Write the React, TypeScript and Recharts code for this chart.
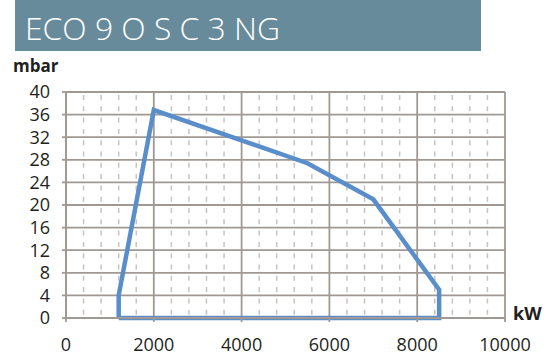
import React from 'react';
import { LineChart, Line, XAxis, YAxis, CartesianGrid } from 'recharts';

// operating field outline (kW, mbar), closed polygon
const powerKw = [1200, 1200, 2000, 5500, 7000, 8500, 8500, 1200];
const pressureMbar = [0, 4, 36.8, 27.4, 21, 5, 0, 0];

const xTicks = [0, 2000, 4000, 6000, 8000, 10000];
const yTicks = [0, 4, 8, 12, 16, 20, 24, 28, 32, 36, 40];
const xMinor = [400, 800, 1200, 1600, 2400, 2800, 3200, 3600, 4400, 4800, 5200, 5600, 6400, 6800, 7200, 7600, 8400, 8800, 9200, 9600];

const title = 'ECO 9 O S C 3 NG';

const data = powerKw.map((kw, i) => ({ kw, mbar: pressureMbar[i] }));

const gridColor = '#a09993';
const tickStyle = { fontFamily: 'Open Sans', fontSize: 18, fill: '#231f20' };

export default function App() {
  return (
    <div style={{ position: 'absolute', left: 0, top: 0, width: 547, height: 357, background: '#fff' }}>
      <LineChart width={547} height={357} data={data} margin={{ top: 92, right: 42, bottom: 0, left: 0 }}>
        <CartesianGrid
          horizontal={false}
          verticalValues={xMinor}
          stroke="#c9c3be"
          strokeWidth={1.5}
          strokeDasharray="5 6.3"
          strokeDashoffset={-3}
        />
        <CartesianGrid verticalValues={xTicks} horizontalValues={yTicks} stroke={gridColor} strokeWidth={1.8} />
        <XAxis
          dataKey="kw"
          type="number"
          domain={[0, 10000]}
          ticks={xTicks}
          height={39}
          tickSize={4}
          tickMargin={16}
          stroke={gridColor}
          strokeWidth={1.8}
          tick={tickStyle}
          interval={0}
        />
        <YAxis
          type="number"
          domain={[0, 40]}
          ticks={yTicks}
          width={66}
          tickSize={4}
          tickMargin={12}
          stroke={gridColor}
          strokeWidth={1.8}
          tick={tickStyle}
          interval={0}
        />
        <Line
          dataKey="mbar"
          type="linear"
          stroke="#5a8ecb"
          strokeWidth={4.5}
          strokeLinejoin="miter"
          dot={false}
          isAnimationActive={false}
        />
      </LineChart>
      <svg width={547} height={357} style={{ position: 'absolute', left: 0, top: 0, pointerEvents: 'none' }}>
        <rect x={15} y={0} width={466} height={51} fill="#678b9a" />
        <text x={25} y={40} fill="#fff" fontFamily="Open Sans" fontWeight={300} fontSize={31} textLength={255} lengthAdjust="spacingAndGlyphs">
          {title}
        </text>
        <text x={13} y={72} fill="#231f20" fontFamily="Open Sans" fontWeight={700} fontSize={17}>mbar</text>
        <text x={513} y={320} fill="#231f20" fontFamily="Open Sans" fontWeight={700} fontSize={18}>kW</text>
      </svg>
    </div>
  );
}
